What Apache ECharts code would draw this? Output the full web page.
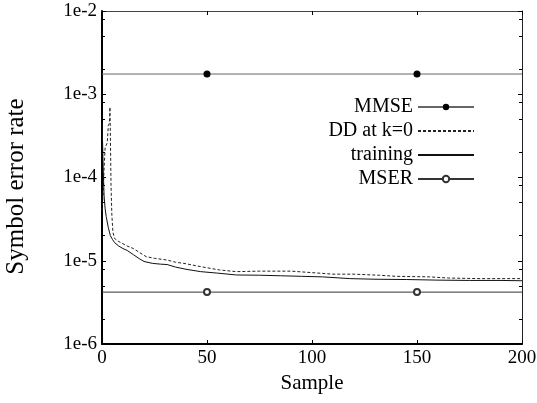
<!DOCTYPE html>
<html>
<head>
<meta charset="utf-8">
<style>html,body{margin:0;padding:0;background:#fff;}#chart{width:537px;height:403px;}</style>
<script src="https://cdn.jsdelivr.net/npm/echarts@6/dist/echarts.min.js"></script>
</head>
<body>
<div id="chart"></div>
<script>
// ---- data ----
var xTickValues = [0, 50, 100, 150, 200];
var yTickLabels = ['1e-6', '1e-5', '1e-4', '1e-3', '1e-2'];

var mmseX = [0, 50, 150, 200];
var mmseY = [1.75e-3, 1.75e-3, 1.75e-3, 1.75e-3];
var mmseMarked = [false, true, true, false];

var ddX = [0, 0.5, 1, 1.5, 2, 2.5, 3, 3.5, 3.8, 4.0, 4.3, 4.7, 5.2, 6, 8, 10, 12, 15, 18, 21, 25, 31, 35, 39, 47, 56, 64, 75, 90, 100, 110, 120, 132, 140, 156, 165, 180, 200];
var ddY = [4e-5, 6e-5, 1.3e-4, 2.3e-4, 2.4e-4, 2.6e-4, 4.2e-4, 4.5e-4, 7e-4, 3e-4, 8e-5, 3.5e-5, 2.2e-5, 1.85e-5, 1.7e-5, 1.6e-5, 1.5e-5, 1.4e-5, 1.25e-5, 1.12e-5, 1.07e-5, 1.02e-5, 9.6e-6, 9.3e-6, 8.5e-6, 7.75e-6, 7.4e-6, 7.5e-6, 7.5e-6, 7.2e-6, 6.9e-6, 6.9e-6, 6.7e-6, 6.5e-6, 6.4e-6, 6.2e-6, 6.1e-6, 6.1e-6];

var trainX = [0, 0.3, 0.6, 1, 1.5, 2, 3, 4, 5, 6, 8, 10, 12, 15, 18, 20, 24, 28, 31, 35, 40, 47, 55, 64, 75, 85, 95, 105, 118, 130, 145, 160, 175, 190, 200];
var trainY = [4.6e-4, 2.5e-4, 1.2e-4, 6.0e-5, 4.2e-5, 3.4e-5, 2.5e-5, 2.0e-5, 1.8e-5, 1.65e-5, 1.5e-5, 1.4e-5, 1.33e-5, 1.18e-5, 1.05e-5, 9.8e-6, 9.3e-6, 9.1e-6, 9.0e-6, 8.4e-6, 7.9e-6, 7.4e-6, 7.1e-6, 6.75e-6, 6.7e-6, 6.6e-6, 6.5e-6, 6.4e-6, 6.1e-6, 6.0e-6, 5.95e-6, 5.85e-6, 5.8e-6, 5.8e-6, 5.75e-6];

var mserX = [0, 50, 150, 200];
var mserY = [4.2e-6, 4.2e-6, 4.2e-6, 4.2e-6];
var mserMarked = [false, true, true, false];

var minorMantissas = [2, 5, 8];
var decadeExponents = [-6, -5, -4, -3];

// ---- build ----
function pairs(xs, ys) { return xs.map(function (x, i) { return [x, ys[i]]; }); }
function markedPairs(xs, ys, marks) {
  return xs.map(function (x, i) {
    return marks[i] ? { value: [x, ys[i]] } : { value: [x, ys[i]], symbol: 'none' };
  });
}
var minorTickPos = [];
decadeExponents.forEach(function (e) {
  minorMantissas.forEach(function (m) { minorTickPos.push(e + Math.log10(m)); });
});

var FONT = 'Liberation Serif';
var chart = echarts.init(document.getElementById('chart'), null, { renderer: 'canvas' });

var logLabel = function (v) { return '1e' + Math.round(Math.log10(v)); };
var hiddenMark = { color: 'rgba(0,0,0,0)', borderColor: 'rgba(0,0,0,0)', borderWidth: 0 };

chart.setOption({
  animation: false,
  backgroundColor: '#fff',
  textStyle: { fontFamily: FONT, color: '#000' },
  grid: { left: 102, right: 15, top: 11, bottom: 59, containLabel: false, outerBoundsMode: 'none' },
  legend: {
    orient: 'vertical',
    right: 62,
    top: 97,
    padding: 0,
    align: 'right',
    itemWidth: 56,
    itemHeight: 8,
    itemGap: 4,
    itemTextGap: 3,
    textStyle: { fontFamily: FONT, fontSize: 20, color: '#000' },
    data: [
      { name: 'MMSE' },
      { name: 'DD at k=0', itemStyle: hiddenMark },
      { name: 'training', itemStyle: hiddenMark },
      { name: 'MSER' }
    ]
  },
  xAxis: [{
    type: 'value', position: 'bottom', min: 0, max: 200, interval: 50,
    name: 'Sample', nameLocation: 'middle', nameGap: 22,
    nameTextStyle: { fontFamily: FONT, fontSize: 21, color: '#000' },
    axisLine: { show: true, onZero: false, lineStyle: { color: '#000', width: 2 } },
    axisTick: { show: true, inside: true, length: 4, lineStyle: { color: '#000' } },
    axisLabel: { fontFamily: FONT, fontSize: 19, color: '#000', margin: 5,
      formatter: function (v) { return xTickValues.indexOf(v) >= 0 ? String(v) : ''; } },
    splitLine: { show: false }
  }, {
    type: 'value', position: 'top', min: 0, max: 200, interval: 50,
    axisLine: { show: true, onZero: false, lineStyle: { color: '#444', width: 1 } },
    axisTick: { show: true, inside: true, length: 4, lineStyle: { color: '#000' } },
    axisLabel: { show: false },
    splitLine: { show: false }
  }],
  yAxis: [{
    type: 'log', logBase: 10, position: 'left', min: 1e-6, max: 1e-2,
    name: 'Symbol error rate', nameLocation: 'middle', nameGap: 73, nameRotate: 90,
    nameTextStyle: { fontFamily: FONT, fontSize: 25, color: '#000', padding: [0, 18, 0, 0] },
    axisLine: { show: true, onZero: false, lineStyle: { color: '#000', width: 2 } },
    axisTick: { show: true, inside: true, length: 4, lineStyle: { color: '#000' } },
    axisLabel: { fontFamily: FONT, fontSize: 19, color: '#000', margin: 5,
      formatter: function (v) { var s = logLabel(v); return yTickLabels.indexOf(s) >= 0 ? s : ''; } },
    splitLine: { show: false }
  }, {
    type: 'log', logBase: 10, position: 'right', min: 1e-6, max: 1e-2,
    axisLine: { show: true, onZero: false, lineStyle: { color: '#222', width: 1 } },
    axisTick: { show: true, inside: true, length: 4, lineStyle: { color: '#000' } },
    axisLabel: { show: false },
    splitLine: { show: false }
  }, {
    type: 'value', position: 'left', min: -6, max: -2,
    axisLine: { show: false, onZero: false },
    axisTick: { show: true, inside: true, length: 3, customValues: minorTickPos, lineStyle: { color: '#000' } },
    axisLabel: { show: false },
    splitLine: { show: false }
  }, {
    type: 'value', position: 'right', min: -6, max: -2,
    axisLine: { show: false, onZero: false },
    axisTick: { show: true, inside: true, length: 3, customValues: minorTickPos, lineStyle: { color: '#000' } },
    axisLabel: { show: false },
    splitLine: { show: false }
  }],
  series: [{
    name: 'MMSE', type: 'line', xAxisIndex: 0, yAxisIndex: 0,
    data: markedPairs(mmseX, mmseY, mmseMarked),
    symbol: 'circle', symbolSize: 7, showSymbol: true,
    itemStyle: { color: '#000' },
    lineStyle: { color: '#666', width: 1 }
  }, {
    name: 'DD at k=0', type: 'line', xAxisIndex: 0, yAxisIndex: 0,
    data: pairs(ddX, ddY), symbol: 'none',
    itemStyle: { color: '#222' },
    lineStyle: { color: '#222', width: 1, type: [3, 2] }
  }, {
    name: 'training', type: 'line', xAxisIndex: 0, yAxisIndex: 0,
    data: pairs(trainX, trainY), symbol: 'none',
    itemStyle: { color: '#111' },
    lineStyle: { color: '#111', width: 1 }
  }, {
    name: 'MSER', type: 'line', xAxisIndex: 0, yAxisIndex: 0,
    data: markedPairs(mserX, mserY, mserMarked),
    symbol: 'emptyCircle', symbolSize: 6, showSymbol: true,
    itemStyle: { color: '#333', borderColor: '#333', borderWidth: 1 },
    lineStyle: { color: '#333', width: 1 }
  }]
});
</script>
</body>
</html>
